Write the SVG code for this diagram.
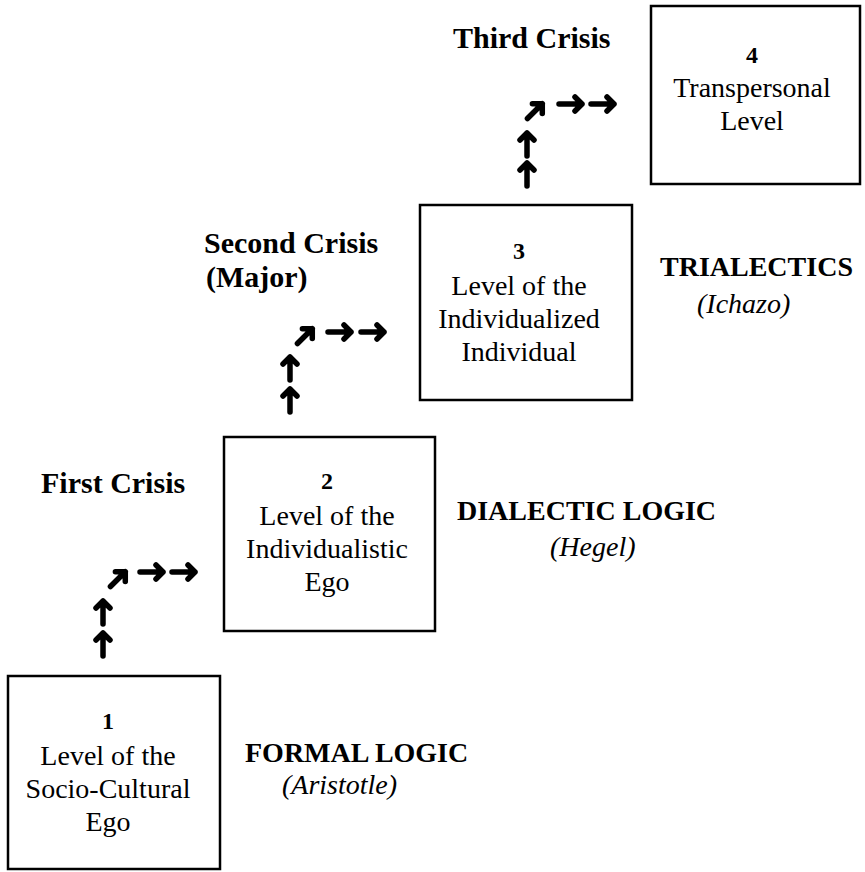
<svg xmlns="http://www.w3.org/2000/svg" xmlns:xlink="http://www.w3.org/1999/xlink" width="865" height="872" viewBox="0 0 865 872">
<defs>
<style>
.box{fill:#fff;stroke:#000;stroke-width:2.5}
.t{font-family:"Liberation Serif","Times New Roman",serif;font-size:28px;fill:#000;text-anchor:middle}
.num{font-family:"Liberation Serif","Times New Roman",serif;font-size:24px;font-weight:bold;fill:#000;text-anchor:middle}
.crisis{font-family:"Liberation Serif","Times New Roman",serif;font-size:30px;font-weight:bold;fill:#000}
.logic{font-family:"Liberation Serif","Times New Roman",serif;font-size:28px;font-weight:bold;fill:#000}
.who{font-family:"Liberation Serif","Times New Roman",serif;font-size:28px;font-style:italic;fill:#000}
.arr{fill:none;stroke:#000;stroke-width:5.5;stroke-linecap:round;stroke-linejoin:round}
</style>
<path id="a" class="arr" d="M-24,0 H-1 M-8,-7 L-1,0 L-8,7"/>
<path id="ad" class="arr" d="M-22,0 H-1 M-8,-7 L-1,0 L-8,7"/>
</defs>
<rect width="865" height="872" fill="#fff"/>

<g id="node1">
<rect class="box" x="8" y="676" width="212" height="193"/>
<text class="num" x="108" y="729">1</text>
<text class="t" x="108" y="765">Level of the</text>
<text class="t" x="108" y="798">Socio-Cultural</text>
<text class="t" x="108" y="831">Ego</text>
</g>
<g id="node2">
<rect class="box" x="224" y="437" width="211" height="194"/>
<text class="num" x="327" y="489">2</text>
<text class="t" x="327" y="525">Level of the</text>
<text class="t" x="327" y="558">Individualistic</text>
<text class="t" x="327" y="591">Ego</text>
</g>
<g id="node3">
<rect class="box" x="420" y="205" width="212" height="195"/>
<text class="num" x="519" y="259">3</text>
<text class="t" x="519" y="295">Level of the</text>
<text class="t" x="519" y="328">Individualized</text>
<text class="t" x="519" y="361">Individual</text>
</g>
<g id="node4">
<rect class="box" x="651" y="6" width="209" height="178"/>
<text class="num" x="752" y="63">4</text>
<text class="t" x="752" y="97">Transpersonal</text>
<text class="t" x="752" y="130">Level</text>
</g>

<g id="labels">
<text class="crisis" x="41" y="493">First Crisis</text>
<text class="crisis" x="204" y="253">Second Crisis</text>
<text class="crisis" x="206" y="287">(Major)</text>
<text class="crisis" x="453" y="48">Third Crisis</text>
<text class="logic" x="245" y="762">FORMAL LOGIC</text>
<text class="who" x="282" y="794">(Aristotle)</text>
<text class="logic" x="457" y="520">DIALECTIC LOGIC</text>
<text class="who" x="550" y="556">(Hegel)</text>
<text class="logic" x="660" y="276">TRIALECTICS</text>
<text class="who" x="697" y="313">(Ichazo)</text>
</g>

<g id="connectors">
<use xlink:href="#a" transform="translate(103,632) rotate(-90)"/>
<use xlink:href="#a" transform="translate(103,600) rotate(-90)"/>
<use xlink:href="#ad" transform="translate(126,571) rotate(-45)"/>
<use xlink:href="#a" transform="translate(164,572)"/>
<use xlink:href="#a" transform="translate(196,572)"/>

<use xlink:href="#a" transform="translate(290,388) rotate(-90)"/>
<use xlink:href="#a" transform="translate(290,356) rotate(-90)"/>
<use xlink:href="#ad" transform="translate(313,328) rotate(-45)"/>
<use xlink:href="#a" transform="translate(352,332)"/>
<use xlink:href="#a" transform="translate(385,332)"/>

<use xlink:href="#a" transform="translate(527,162) rotate(-90)"/>
<use xlink:href="#a" transform="translate(527,132) rotate(-90)"/>
<use xlink:href="#ad" transform="translate(543,103) rotate(-45)"/>
<use xlink:href="#a" transform="translate(583,104)"/>
<use xlink:href="#a" transform="translate(615,104)"/>
</g>
</svg>
